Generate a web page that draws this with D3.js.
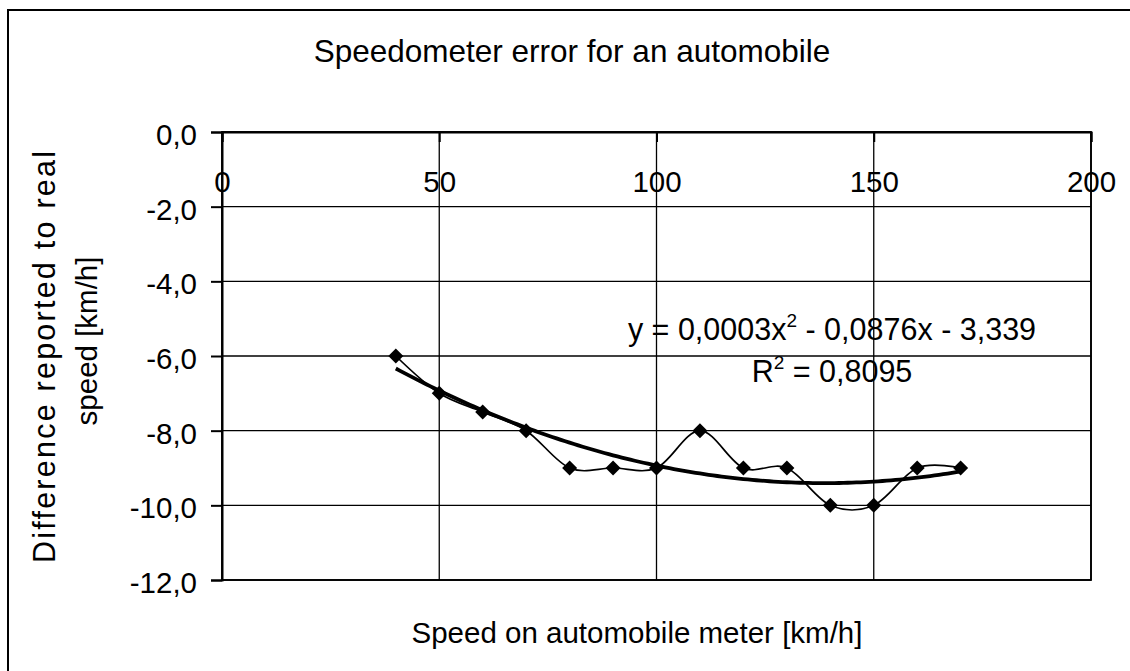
<!DOCTYPE html>
<html>
<head>
<meta charset="utf-8">
<script src="https://cdn.jsdelivr.net/npm/d3@7"></script>
<style>
  html, body { margin: 0; padding: 0; background: #fff; }
  svg { display: block; font-family: "Liberation Sans", Arial, sans-serif; }
</style>
</head>
<body>
<svg id="chart" width="1130" height="671"></svg>
<script>
// ---- data ----
const speeds = [40, 50, 60, 70, 80, 90, 100, 110, 120, 130, 140, 150, 160, 170];
const differences = [-6, -7, -7.5, -8, -9, -9, -9, -8, -9, -9, -10, -10, -9, -9];
const xTicks = [0, 50, 100, 150, 200];
const yTicks = [0, -2, -4, -6, -8, -10, -12];
const titleText = "Speedometer error for an automobile";
const xTitle = "Speed on automobile meter [km/h]";
const yTitleLines = ["Difference reported to real", "speed [km/h]"];

const svg = d3.select("#chart");
const W = 1130, H = 671;
const plot = { left: 222, right: 1091, top: 132, bottom: 580 };

const x = d3.scaleLinear().domain([0, 200]).range([plot.left, plot.right]);
const y = d3.scaleLinear().domain([0, -12]).range([plot.top, plot.bottom]);

const loc = d3.formatLocale({ decimal: ",", thousands: ".", grouping: [3], currency: ["", ""], minus: "-" });
const yFmt = loc.format(".1f");

svg.append("rect").attr("width", W).attr("height", H).attr("fill", "#fff");
// outer chart border (right/bottom fall outside the picture)
svg.append("rect").attr("x", 8).attr("y", 10).attr("width", 1140).attr("height", 700)
  .attr("fill", "none").attr("stroke", "#000").attr("stroke-width", 2);

// title
svg.append("text").attr("x", 572).attr("y", 62).attr("text-anchor", "middle")
  .attr("font-size", 31.5).attr("fill", "#000").text(titleText);

// gridlines
const grid = svg.append("g");
grid.selectAll("line.h").data(yTicks).join("line")
  .attr("x1", plot.left).attr("x2", plot.right)
  .attr("y1", d => y(d)).attr("y2", d => y(d))
  .attr("stroke", "#000").attr("stroke-width", 1.3);
grid.selectAll("line.v").data(xTicks).join("line")
  .attr("y1", plot.top).attr("y2", plot.bottom)
  .attr("x1", d => x(d)).attr("x2", d => x(d))
  .attr("stroke", "#000").attr("stroke-width", 1.3);
// plot border
svg.append("rect").attr("x", plot.left).attr("y", plot.top)
  .attr("width", plot.right - plot.left).attr("height", plot.bottom - plot.top)
  .attr("fill", "none").attr("stroke", "#000").attr("stroke-width", 1.8);

// axes
const xAxis = svg.append("g").attr("transform", `translate(0,${y(0)})`)
  .call(d3.axisBottom(x).tickValues(xTicks).tickFormat(d3.format("d")).tickSize(10).tickPadding(29));
const yAxis = svg.append("g").attr("transform", `translate(${x(0)},0)`)
  .call(d3.axisLeft(y).tickValues(yTicks).tickFormat(yFmt).tickSize(11).tickPadding(14));
[xAxis, yAxis].forEach(g => {
  g.attr("font-family", null).attr("font-size", null);
  g.select(".domain").attr("stroke", "#000").attr("stroke-width", 2);
  g.selectAll(".tick line").attr("stroke", "#000").attr("stroke-width", 2);
  g.selectAll(".tick text").attr("fill", "#000").attr("font-size", 29.5);
});
yAxis.selectAll(".tick text").attr("dy", "0.42em");

// axis titles
svg.append("text").attr("x", 637).attr("y", 643)
  .attr("text-anchor", "middle").attr("font-size", 29.5).attr("fill", "#000").text(xTitle);
svg.append("text").attr("transform", `translate(55,357) rotate(-90)`)
  .attr("text-anchor", "middle").attr("font-size", 30.5).attr("fill", "#000")
  .attr("textLength", 412).attr("lengthAdjust", "spacing").text(yTitleLines[0]);
svg.append("text").attr("transform", `translate(97,341) rotate(-90)`)
  .attr("text-anchor", "middle").attr("font-size", 29.5).attr("fill", "#000").text(yTitleLines[1]);

// quadratic least-squares trendline computed from the data
function polyfit2(xs, ys) {
  let S = Array(5).fill(0), T = Array(3).fill(0);
  xs.forEach((xv, i) => {
    for (let k = 0; k < 5; k++) S[k] += Math.pow(xv, k);
    for (let k = 0; k < 3; k++) T[k] += ys[i] * Math.pow(xv, k);
  });
  const A = [[S[0], S[1], S[2], T[0]], [S[1], S[2], S[3], T[1]], [S[2], S[3], S[4], T[2]]];
  for (let c = 0; c < 3; c++) {
    for (let r = c + 1; r < 3; r++) {
      const f = A[r][c] / A[c][c];
      for (let k = c; k < 4; k++) A[r][k] -= f * A[c][k];
    }
  }
  const sol = [0, 0, 0];
  for (let r = 2; r >= 0; r--) {
    let s = A[r][3];
    for (let k = r + 1; k < 3; k++) s -= A[r][k] * sol[k];
    sol[r] = s / A[r][r];
  }
  return sol; // c0, c1, c2
}
const coef = polyfit2(speeds, differences);
const xMin = d3.min(speeds), xMax = d3.max(speeds);
const trendX = d3.range(xMin, xMax + 0.001, 1);
const trend = trendX.map(v => [v, coef[0] + coef[1] * v + coef[2] * v * v]);

svg.append("path").datum(trend)
  .attr("d", d3.line().x(d => x(d[0])).y(d => y(d[1])))
  .attr("fill", "none").attr("stroke", "#000").attr("stroke-width", 3.8);

// smoothed data line
const pts = speeds.map((s, i) => [s, differences[i]]);
svg.append("path").datum(pts)
  .attr("d", d3.line().x(d => x(d[0])).y(d => y(d[1])).curve(d3.curveCardinal.tension(0)))
  .attr("fill", "none").attr("stroke", "#000").attr("stroke-width", 1.7);

// diamond markers
svg.append("g").selectAll("path").data(pts).join("path")
  .attr("transform", d => `translate(${x(d[0])},${y(d[1])})`)
  .attr("d", "M0,-7.5L7.5,0L0,7.5L-7.5,0Z").attr("fill", "#000");

// equation label
const eq = svg.append("text").attr("text-anchor", "middle").attr("font-size", 30.5).attr("fill", "#000");
const l1 = eq.append("tspan").attr("x", 832).attr("y", 340);
l1.append("tspan").text("y = 0,0003x");
l1.append("tspan").attr("font-size", 19).attr("dy", -13).text("2");
l1.append("tspan").attr("dy", 13).text(" - 0,0876x - 3,339");
const l2 = eq.append("tspan").attr("x", 832).attr("y", 382);
l2.append("tspan").text("R");
l2.append("tspan").attr("font-size", 19).attr("dy", -13).text("2");
l2.append("tspan").attr("dy", 13).text(" = 0,8095");
</script>
</body>
</html>
